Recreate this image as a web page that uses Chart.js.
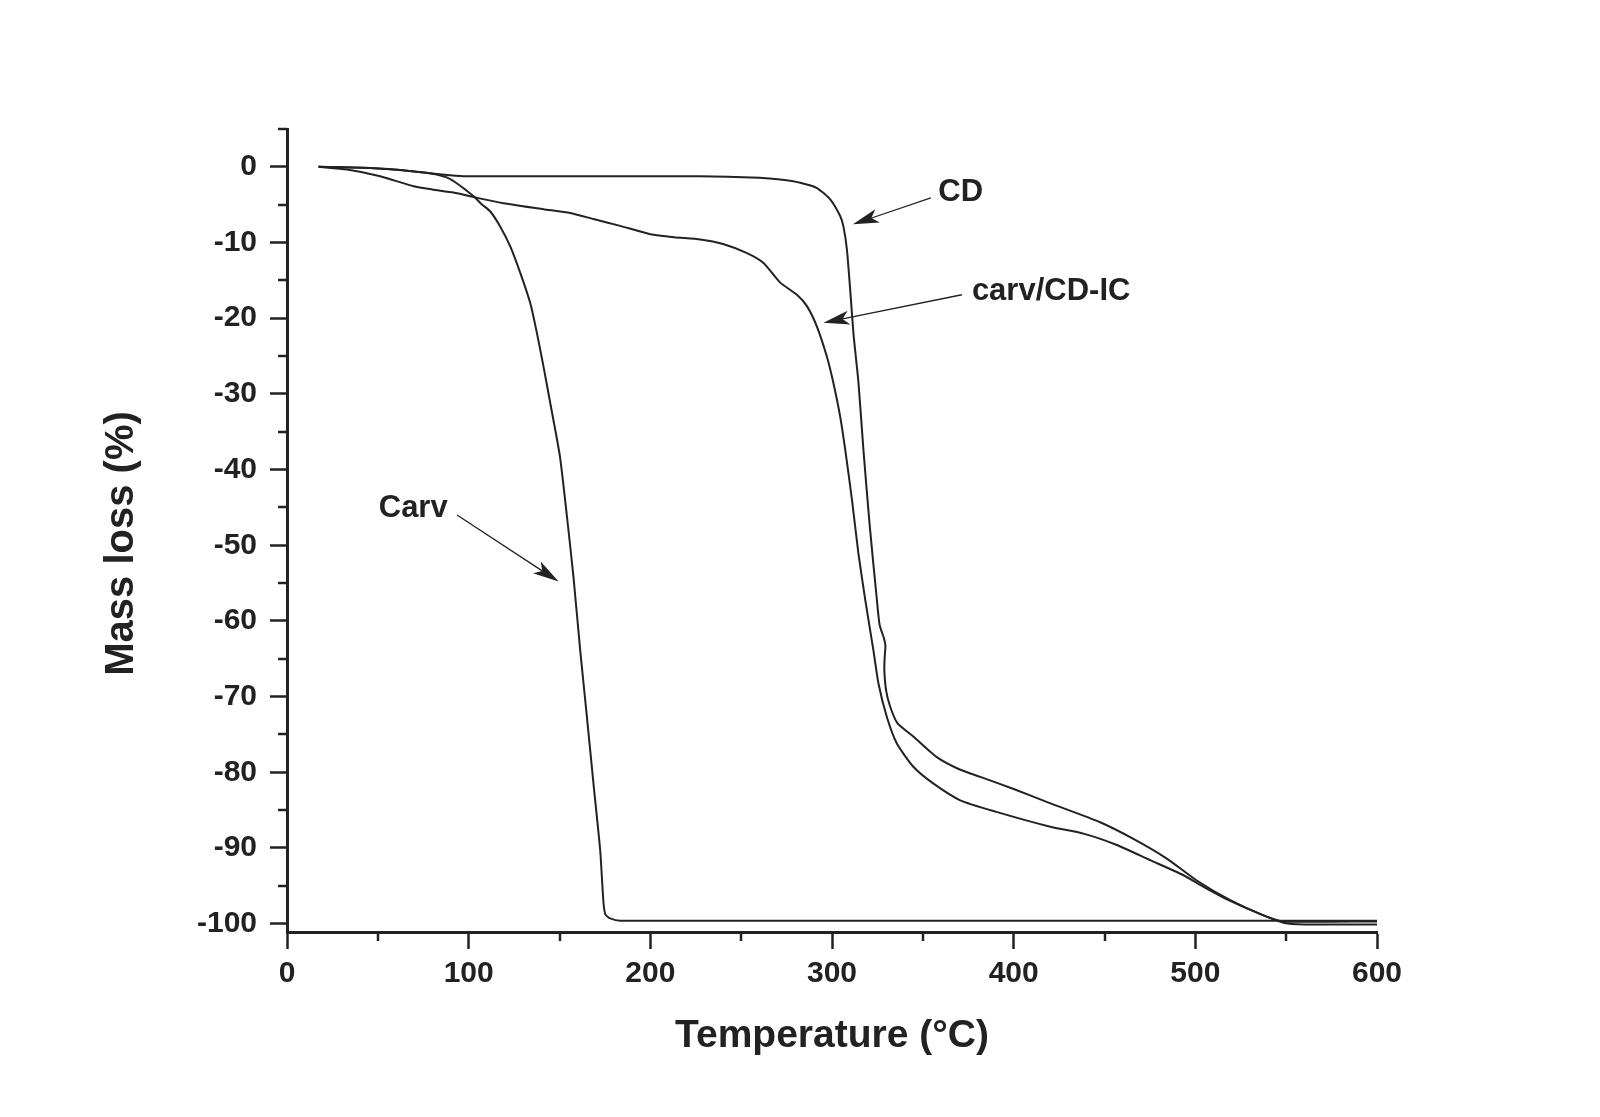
<!DOCTYPE html>
<html>
<head>
<meta charset="utf-8">
<title>Mass loss vs temperature</title>
<script src="https://cdn.jsdelivr.net/npm/chart.js@4.4.1/dist/chart.umd.min.js"></script>
<style>
  body { margin: 0; background: #fff; }
  #chart { display: block; }
</style>
</head>
<body>
<canvas id="chart" width="1600" height="1117"></canvas>
<script>
// TGA curves: temperature (°C) and mass loss (%)
const carvTemp = [17.4, 30, 42, 56, 70, 80, 88, 93, 97, 102.7, 107, 111.9, 117.4, 122.9, 128.4, 133.9, 137.6, 141.2, 144.9, 150.2, 154.1, 157.7, 161.4, 165.1, 168.7, 172.4, 174.2, 175.3, 177.9, 183.4, 600];
const carvMass = [0, -0.05, -0.13, -0.3, -0.6, -0.9, -1.4, -2.1, -2.8, -3.9, -4.9, -5.9, -7.9, -10.5, -14, -18, -22, -26.4, -31.2, -38.2, -46.2, -54.2, -63.9, -72.7, -81.5, -90.3, -97.2, -98.8, -99.3, -99.6, -99.6];

const cdTemp = [17.4, 42, 70, 85, 97, 150, 227, 260, 271.5, 282.5, 291.7, 299, 304.5, 306.3, 308.2, 310, 311.8, 314.6, 317.3, 320.8, 324.7, 326.2, 328.6, 329.4, 329, 328.8, 329.8, 332, 336, 344.9, 357.7, 370, 381.6, 400, 420.2, 447.6, 465.9, 484.3, 500.8, 519.2, 537.5, 548.5, 600];
const cdMass = [0, -0.13, -0.6, -1.0, -1.24, -1.24, -1.24, -1.45, -1.68, -2.1, -2.8, -4.3, -6.5, -7.9, -10.9, -16.2, -22, -28.6, -37.4, -47.5, -57.2, -60.5, -62.3, -63.3, -64.8, -66.5, -69.2, -71.3, -73.5, -75.3, -78, -79.6, -80.6, -82.2, -84.1, -86.6, -88.8, -91.4, -94.3, -96.9, -98.9, -99.7, -99.7];

const icTemp = [17.4, 33, 51.3, 69.7, 80, 91.7, 104.6, 119.2, 141.2, 155.9, 168.7, 183.4, 200, 213, 227.5, 240, 253.2, 262.3, 271.5, 280.7, 286.2, 291.7, 297.2, 300.8, 304.5, 307.3, 311, 314.5, 318.3, 322.8, 325.6, 330.2, 335.7, 344.9, 355.9, 370.6, 390, 420.2, 438.4, 456.8, 475.1, 493.5, 505, 519.2, 537.5, 549, 560, 600];
const icMass = [0, -0.36, -1.24, -2.57, -3.0, -3.4, -4.1, -4.8, -5.6, -6.1, -6.9, -7.8, -8.9, -9.3, -9.6, -10.2, -11.4, -12.7, -15.3, -16.9, -18.4, -21.1, -25.1, -28.6, -33, -37.4, -44, -51, -57.2, -63.9, -68.3, -72.7, -76.2, -79.3, -81.5, -83.7, -85.2, -87.2, -88.1, -89.6, -91.6, -93.6, -95.2, -97, -98.9, -99.9, -100.1, -100.1];

const xMajorTicks = [0, 100, 200, 300, 400, 500, 600];
const xMinorTicks = [50, 150, 250, 350, 450, 550];
const yMajorTicks = [0, -10, -20, -30, -40, -50, -60, -70, -80, -90, -100];
const yMinorTicks = [5, -5, -15, -25, -35, -45, -55, -65, -75, -85, -95];

const yTitle = 'Mass loss (%)';
const xTitle = 'Temperature (°C)';

const ink = '#222222';
const fontFamily = '"Liberation Sans", Arial, Helvetica, sans-serif';

// curve labels with arrows, placed in data units
const callouts = [
    { text: 'CD', at: [358.5, -3.4], from: [354.4, -4.1], to: [311.5, -7.6] },
    { text: 'carv/CD-IC', at: [377, -16.4], from: [371.5, -16.9], to: [295.3, -20.6] },
    { text: 'Carv', at: [50.5, -45.2], from: [93.6, -46], to: [149.5, -54.8] }
];

function toPoints(xs, ys) {
    return xs.map((x, i) => ({ x: x, y: ys[i] }));
}

function drawArrow(ctx, x1, y1, x2, y2) {
    const ang = Math.atan2(y2 - y1, x2 - x1);
    const len = 26, half = 7;
    const cos = Math.cos(ang), sin = Math.sin(ang);
    ctx.lineWidth = 1.3;
    ctx.beginPath();
    ctx.moveTo(x1, y1);
    ctx.lineTo(x2 - len * 0.7 * cos, y2 - len * 0.7 * sin);
    ctx.stroke();
    ctx.beginPath();
    ctx.moveTo(x2, y2);
    ctx.lineTo(x2 - len * cos + half * sin, y2 - len * sin - half * cos);
    ctx.lineTo(x2 - len * 0.75 * cos, y2 - len * 0.75 * sin);
    ctx.lineTo(x2 - len * cos - half * sin, y2 - len * sin + half * cos);
    ctx.closePath();
    ctx.fill();
}

// minor ticks, y title and callouts
const extrasPlugin = {
    id: 'extras',
    afterDraw(chart) {
        const ctx = chart.ctx;
        const xs = chart.scales.x, ys = chart.scales.y;
        const area = chart.chartArea;
        ctx.save();
        ctx.strokeStyle = ink;
        ctx.fillStyle = ink;
        ctx.lineWidth = 2.5;
        xMinorTicks.forEach(v => {
            const px = Math.round(xs.getPixelForValue(v));
            ctx.beginPath();
            ctx.moveTo(px, area.bottom);
            ctx.lineTo(px, area.bottom + 9);
            ctx.stroke();
        });
        yMinorTicks.forEach(v => {
            const py = Math.round(ys.getPixelForValue(v));
            ctx.beginPath();
            ctx.moveTo(area.left, py);
            ctx.lineTo(area.left - 9, py);
            ctx.stroke();
        });

        // y axis title sits a little below the plot centre in the original
        ctx.save();
        ctx.translate(122, (area.top + area.bottom) / 2 + 13);
        ctx.rotate(-Math.PI / 2);
        ctx.font = 'bold 40px ' + fontFamily;
        ctx.textAlign = 'center';
        ctx.textBaseline = 'middle';
        ctx.fillText(yTitle, 0, 0);
        ctx.restore();

        ctx.font = 'bold 31px ' + fontFamily;
        ctx.textAlign = 'left';
        ctx.textBaseline = 'middle';
        callouts.forEach(c => {
            ctx.fillText(c.text, xs.getPixelForValue(c.at[0]), ys.getPixelForValue(c.at[1]));
            drawArrow(ctx,
                xs.getPixelForValue(c.from[0]), ys.getPixelForValue(c.from[1]),
                xs.getPixelForValue(c.to[0]), ys.getPixelForValue(c.to[1]));
        });
        ctx.restore();
    }
};

const lineStyle = {
    borderColor: ink,
    borderWidth: 2,
    pointRadius: 0,
    tension: 0.2,
    fill: false
};

const ctx = document.getElementById('chart').getContext('2d');
const chart = new Chart(ctx, {
    type: 'line',
    data: {
        datasets: [
            Object.assign({ label: 'Carv', data: toPoints(carvTemp, carvMass) }, lineStyle),
            Object.assign({ label: 'CD', data: toPoints(cdTemp, cdMass) }, lineStyle),
            Object.assign({ label: 'carv/CD-IC', data: toPoints(icTemp, icMass) }, lineStyle)
        ]
    },
    options: {
        responsive: false,
        animation: false,
        devicePixelRatio: 1,
        layout: { padding: { left: 0, top: 129, right: 223, bottom: 0 } },
        plugins: {
            legend: { display: false },
            tooltip: { enabled: false }
        },
        scales: {
            x: {
                type: 'linear',
                min: 0,
                max: 600,
                afterBuildTicks: (scale) => { scale.ticks = xMajorTicks.map(v => ({ value: v })); },
                afterFit: (scale) => { scale.height = 185; },
                border: { display: true, color: ink, width: 3 },
                grid: { drawOnChartArea: false, drawTicks: true, tickLength: 17, tickWidth: 2.5, tickColor: ink },
                ticks: {
                    color: ink,
                    padding: 7,
                    maxRotation: 0,
                    font: { family: fontFamily, size: 30, weight: 'bold' }
                },
                title: {
                    display: true,
                    text: xTitle,
                    color: ink,
                    padding: { top: 0, bottom: 57 },
                    font: { family: fontFamily, size: 39, weight: 'bold', lineHeight: 1.2 }
                }
            },
            y: {
                type: 'linear',
                min: -101.1,
                max: 5,
                afterBuildTicks: (scale) => { scale.ticks = yMajorTicks.map(v => ({ value: v })); },
                afterFit: (scale) => { scale.width = 287; },
                border: { display: true, color: ink, width: 3 },
                grid: { drawOnChartArea: false, drawTicks: true, tickLength: 17, tickWidth: 2.5, tickColor: ink },
                ticks: {
                    color: ink,
                    padding: 13,
                    font: { family: fontFamily, size: 30, weight: 'bold' }
                },
                title: { display: false }
            }
        }
    },
    plugins: [extrasPlugin]
});
</script>
</body>
</html>
